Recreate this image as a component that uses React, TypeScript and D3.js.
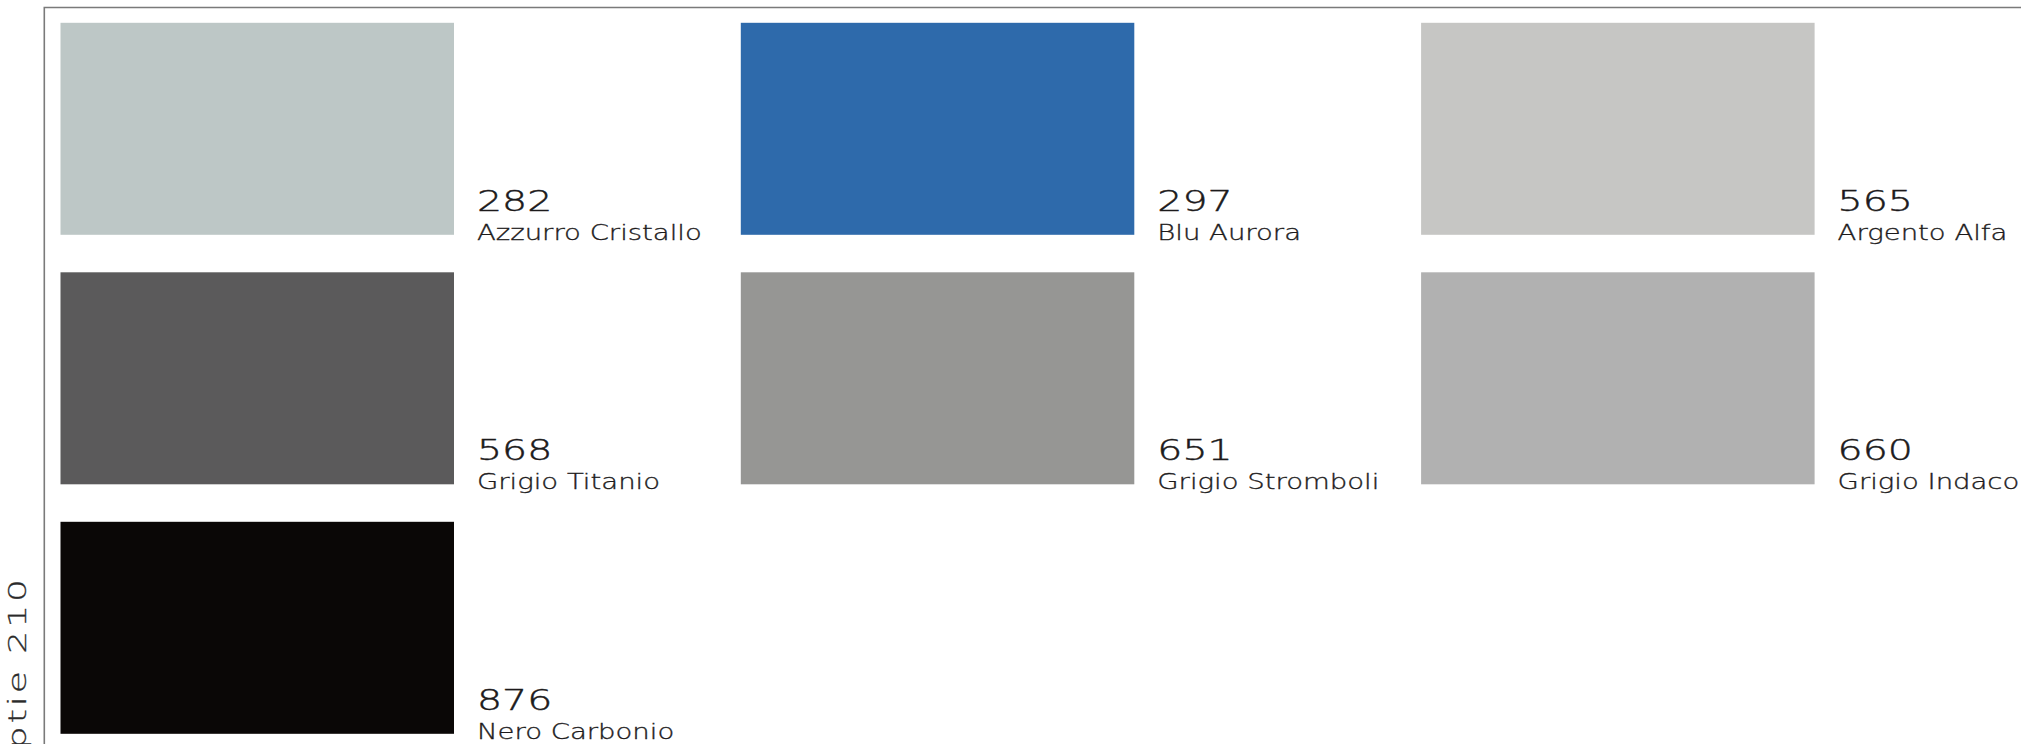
import React from "react";
import * as d3 from "d3";

const codes = ["282", "297", "565", "568", "651", "660", "876"];
const names = [
  "Azzurro Cristallo",
  "Blu Aurora",
  "Argento Alfa",
  "Grigio Titanio",
  "Grigio Stromboli",
  "Grigio Indaco",
  "Nero Carbonio",
];
const colors = ["#bdc7c6", "#2e6aab", "#c6c6c4", "#5b5a5b", "#969694", "#b1b1b1", "#0a0706"];
const sideLabel = "optie 210";

const W = 2021;
const H = 744;
const COLS = 3;
const swW = 393.5;
const swH = 212;

export default function App() {
  const x = d3.scaleLinear().domain([0, 1]).range([60.5, 740.8]);
  const y = d3.scaleLinear().domain([0, 1]).range([22.8, 272.3]);
  const textColor = "#1c1a1b";
  const font = "'DejaVu Sans', sans-serif";

  return (
    <svg
      width={W}
      height={H}
      viewBox={`0 0 ${W} ${H}`}
      style={{ position: "absolute", left: 0, top: 0, display: "block", background: "#fff" }}
    >
      <rect x={0} y={0} width={W} height={H} fill="#fff" />
      <path
        d={`M44.3,${H + 2} L44.3,7.5 L${W + 2},7.5`}
        fill="none"
        stroke="#7a7a7a"
        strokeWidth={1.6}
      />
      {codes.map((c, i) => {
        const col = i % COLS;
        const row = Math.floor(i / COLS);
        const x0 = x(col);
        const y0 = y(row);
        const tx = x0 + swW + 23;
        const nameBase = y0 + swH + 5;
        const codeBase = nameBase - 29;
        return (
          <g key={c}>
            <rect x={x0} y={y0} width={swW} height={swH} fill={colors[i]} />
            <text
              transform={`translate(${tx},${codeBase}) scale(1.36,1)`}
              fontFamily={font}
              fontSize={29}
              fontWeight={300}
              fill={textColor}
              stroke={textColor}
              strokeWidth={0.45}
            >
              {c}
            </text>
            <text
              transform={`translate(${tx},${nameBase}) scale(1.25,1)`}
              fontFamily={font}
              fontSize={22}
              fontWeight={300}
              fill={textColor}
              stroke={textColor}
              strokeWidth={0.35}
            >
              {names[i]}
            </text>
          </g>
        );
      })}
      <text
        transform={`translate(26,576) rotate(-90) scale(1.5,1)`}
        textAnchor="end"
        fontFamily={font}
        fontSize={24}
        fontWeight={300}
        letterSpacing={2}
        fill="#2a2a2a"
        stroke="#2a2a2a"
        strokeWidth={0.3}
      >
        {sideLabel}
      </text>
    </svg>
  );
}
